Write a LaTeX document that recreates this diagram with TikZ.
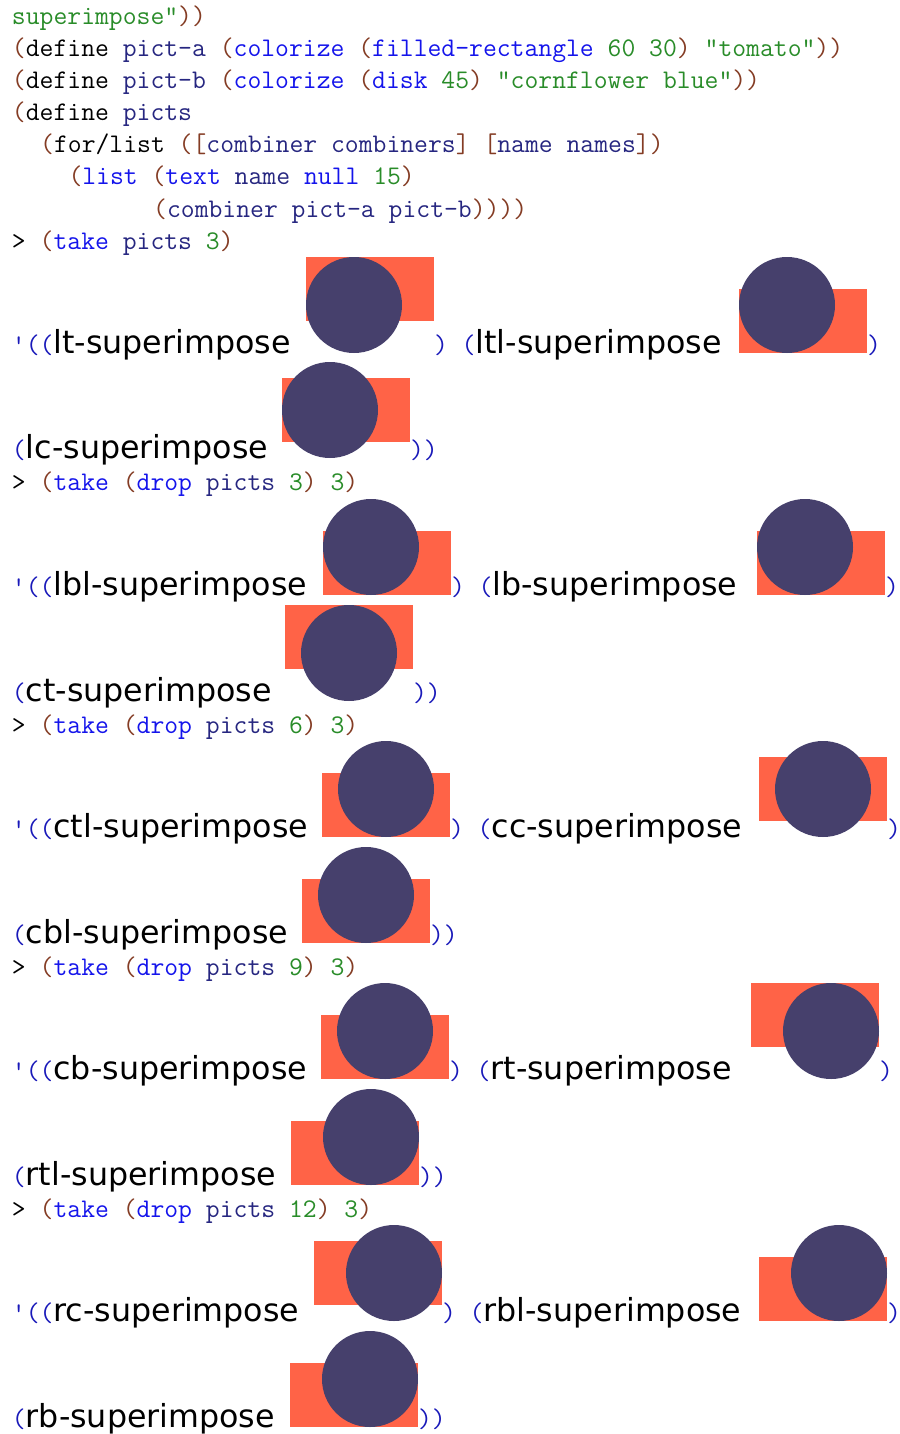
\documentclass[tikz,border=0pt]{standalone}
\usepackage{fontspec}
\newfontfamily\lblfont{DejaVu Sans}
\definecolor{brn}{RGB}{132,60,36}
\definecolor{navyid}{RGB}{38,38,128}
\definecolor{kwblue}{RGB}{20,20,235}
\definecolor{cgreen}{RGB}{41,140,41}
\definecolor{resblue}{RGB}{25,25,185}
\definecolor{tomato}{RGB}{255,99,71}
\definecolor{diskcol}{RGB}{70,64,108}
\newcommand\Bp[1]{\textcolor{brn}{#1}}
\newcommand\Nv[1]{\textcolor{navyid}{#1}}
\newcommand\Kw[1]{\textcolor{kwblue}{#1}}
\newcommand\Gc[1]{\textcolor{cgreen}{#1}}
\newcommand\Rs[1]{\textcolor{resblue}{#1}}
\newcommand\Lb[1]{{\lblfont\fontsize{31.7}{38}\selectfont #1}}
\newcommand\combo[4]{%
  \fill[tomatofill] (#1,#2) rectangle ++(128,64);
  \fill[diskfill] (#3,#4) circle[radius=48pt];}
\begin{document}
\begin{tikzpicture}[x=1pt,y=-1pt,
  code/.style={anchor=base west,inner sep=0pt,outer sep=0pt,font=\ttfamily\fontsize{26.9}{32}\selectfont},
  tomatofill/.style={fill=tomato},
  diskfill/.style={fill=diskcol}]
\useasboundingbox (0,0) rectangle (899,1434);
% code
\node[code] (l1) at (12,25) {\Gc{superimpose"}\Bp{))}};
\node[code] (l2) at (12,57) {\Bp{(}define \Nv{pict-a} \Bp{(}\Kw{colorize} \Bp{(}\Kw{filled-rectangle} \Gc{60 30}\Bp{)} \Gc{"tomato"}\Bp{))}};
\node[code] (l3) at (12,89) {\Bp{(}define \Nv{pict-b} \Bp{(}\Kw{colorize} \Bp{(}\Kw{disk} \Gc{45}\Bp{)} \Gc{"cornflower blue"}\Bp{))}};
\node[code] (l4) at (12,121) {\Bp{(}define \Nv{picts}};
\node[code] (l5) at (40.2,153) {\Bp{(}for/list \Bp{([}\Nv{combiner combiners}\Bp{]} \Bp{[}\Nv{name names}\Bp{])}};
\node[code] (l6) at (68.5,185) {\Bp{(}\Kw{list} \Bp{(}\Kw{text} \Nv{name} \Kw{null} \Gc{15}\Bp{)}};
\node[code] (l7) at (153.2,217) {\Bp{(}\Nv{combiner pict-a pict-b}\Bp{))))}};
\node[code] (l8) at (12,249) {> \Bp{(}\Kw{take} \Nv{picts} \Gc{3}\Bp{)}};
% row 1
\node[code] (r1a) at (12,353) {\Rs{'((}\Lb{lt-superimpose}};
\combo{306}{257}{354}{305}
\node[code] (r1b) at (434,353) {\Rs{) (}\Lb{ltl-superimpose}};
\combo{739}{289}{787}{305}
\node[code] (r1c) at (867,353) {\Rs{)}};
% row 2
\node[code] (r2a) at (12,458) {\Rs{(}\Lb{lc-superimpose}};
\combo{282}{378}{330}{410}
\node[code] (r2b) at (410,458) {\Rs{))}};
\node[code] (h2) at (12,490) {> \Bp{(}\Kw{take} \Bp{(}\Kw{drop} \Nv{picts} \Gc{3}\Bp{)} \Gc{3}\Bp{)}};
% row 3
\node[code] (r3a) at (12,595) {\Rs{'((}\Lb{lbl-superimpose}};
\combo{323}{531}{371}{547}
\node[code] (r3b) at (451,595) {\Rs{) (}\Lb{lb-superimpose}};
\combo{757}{531}{805}{547}
\node[code] (r3c) at (885,595) {\Rs{)}};
% row 4
\node[code] (r4a) at (12,701) {\Rs{(}\Lb{ct-superimpose}};
\combo{285}{605}{349}{653}
\node[code] (r4b) at (413,701) {\Rs{))}};
\node[code] (h3) at (12,733) {> \Bp{(}\Kw{take} \Bp{(}\Kw{drop} \Nv{picts} \Gc{6}\Bp{)} \Gc{3}\Bp{)}};
% row 5
\node[code] (r5a) at (12,837) {\Rs{'((}\Lb{ctl-superimpose}};
\combo{322}{773}{386}{789}
\node[code] (r5b) at (450,837) {\Rs{) (}\Lb{cc-superimpose}};
\combo{759}{757}{823}{789}
\node[code] (r5c) at (887,837) {\Rs{)}};
% row 6
\node[code] (r6a) at (12,943) {\Rs{(}\Lb{cbl-superimpose}};
\combo{302}{879}{366}{895}
\node[code] (r6b) at (430,943) {\Rs{))}};
\node[code] (h4) at (12,975) {> \Bp{(}\Kw{take} \Bp{(}\Kw{drop} \Nv{picts} \Gc{9}\Bp{)} \Gc{3}\Bp{)}};
% row 7
\node[code] (r7a) at (12,1079) {\Rs{'((}\Lb{cb-superimpose}};
\combo{321}{1015}{385}{1031}
\node[code] (r7b) at (449,1079) {\Rs{) (}\Lb{rt-superimpose}};
\combo{751}{983}{831}{1031}
\node[code] (r7c) at (879,1079) {\Rs{)}};
% row 8
\node[code] (r8a) at (12,1185) {\Rs{(}\Lb{rtl-superimpose}};
\combo{291}{1121}{371}{1137}
\node[code] (r8b) at (419,1185) {\Rs{))}};
\node[code] (h5) at (12,1217) {> \Bp{(}\Kw{take} \Bp{(}\Kw{drop} \Nv{picts} \Gc{12}\Bp{)} \Gc{3}\Bp{)}};
% row 9
\node[code] (r9a) at (12,1321) {\Rs{'((}\Lb{rc-superimpose}};
\combo{314}{1241}{394}{1273}
\node[code] (r9b) at (442,1321) {\Rs{) (}\Lb{rbl-superimpose}};
\combo{759}{1257}{839}{1273}
\node[code] (r9c) at (887,1321) {\Rs{)}};
% row 10
\node[code] (r10a) at (12,1427) {\Rs{(}\Lb{rb-superimpose}};
\combo{290}{1363}{370}{1379}
\node[code] (r10b) at (418,1427) {\Rs{))}};
\end{tikzpicture}
\end{document}
